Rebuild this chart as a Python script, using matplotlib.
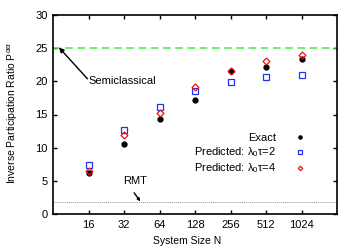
import numpy as np
import matplotlib.pyplot as plt

plt.rcParams['font.family'] = ['Liberation Sans', 'DejaVu Sans']
plt.rcParams['font.size'] = 8

N = [16, 32, 64, 128, 256, 512, 1024]
exact = [6.2, 10.6, 14.35, 17.2, 21.6, 22.2, 23.3]
pred2 = [7.4, 12.6, 16.1, 18.6, 19.9, 20.6, 21.0]
pred4 = [6.5, 11.85, 15.25, 19.1, 21.6, 23.0, 23.9]
semiclassical = 25.1
rmt = 1.8

fig = plt.figure(figsize=(3.57, 2.5), dpi=100)
ax = fig.add_axes([53/357, 1-214/250, (337-53)/357, (214-15)/250])

ax.axhline(semiclassical, color='#44ee44', ls=(0, (5, 3)), lw=1.1)
ax.axhline(rmt, color='#999999', ls=(0, (1, 1)), lw=0.7)

ax.plot(N, exact, 'o', color='black', ms=3.5, ls='none', label='Exact')
ax.plot(N, pred2, 's', mfc='none', mec='#2233ee', mew=0.9, ms=5, ls='none',
        label=r'Predicted: $\mathregular{\lambda_0\tau}$=2')
ax.plot(N, pred4, 'D', mfc='none', mec='#ee1111', mew=0.9, ms=3.5, ls='none',
        label=r'Predicted: $\mathregular{\lambda_0\tau}$=4')

ax.set_xscale('log', base=2)
ax.set_xlim(8, 2048)
ax.set_xticks(N)
ax.set_xticklabels([str(n) for n in N])
ax.minorticks_off()
ax.set_ylim(0, 30)
ax.set_yticks([0, 5, 10, 15, 20, 25, 30])

ax.tick_params(direction='in', top=True, right=True, length=3, width=1, pad=4)
for s in ax.spines.values():
    s.set_linewidth(1.2)

ax.set_xlabel('System Size N', fontsize=7.5)
ax.xaxis.set_label_coords(0.472, -0.11)
ax.set_ylabel(r'Inverse Participation Ratio P$^{\alpha\alpha}$', fontsize=7.5)
ax.yaxis.set_label_coords(-0.116, 0.51)

ax.annotate('Semiclassical', xy=(9.0, 25.1), xytext=(16.1, 20.0),
            ha='left', va='center',
            arrowprops=dict(arrowstyle='-|>', color='black', lw=1.0,
                            mutation_scale=7, shrinkA=0, shrinkB=0,
                            patchA=None, relpos=(-0.02, 0.75)))
ax.text(31.5, 4.9, 'RMT', ha='left', va='center')
ax.annotate('', xy=(44, 1.9), xytext=(39, 3.2),
            arrowprops=dict(arrowstyle='-|>', color='black', lw=1.0,
                            mutation_scale=4, shrinkA=0, shrinkB=0))

leg = ax.legend(loc='lower right', bbox_to_anchor=(0.91, 0.166), frameon=False,
                markerfirst=False, handlelength=1.0, handletextpad=1.7,
                labelspacing=0.2, borderpad=0, markerscale=0.65)

fig.savefig('out.png', dpi=100)
